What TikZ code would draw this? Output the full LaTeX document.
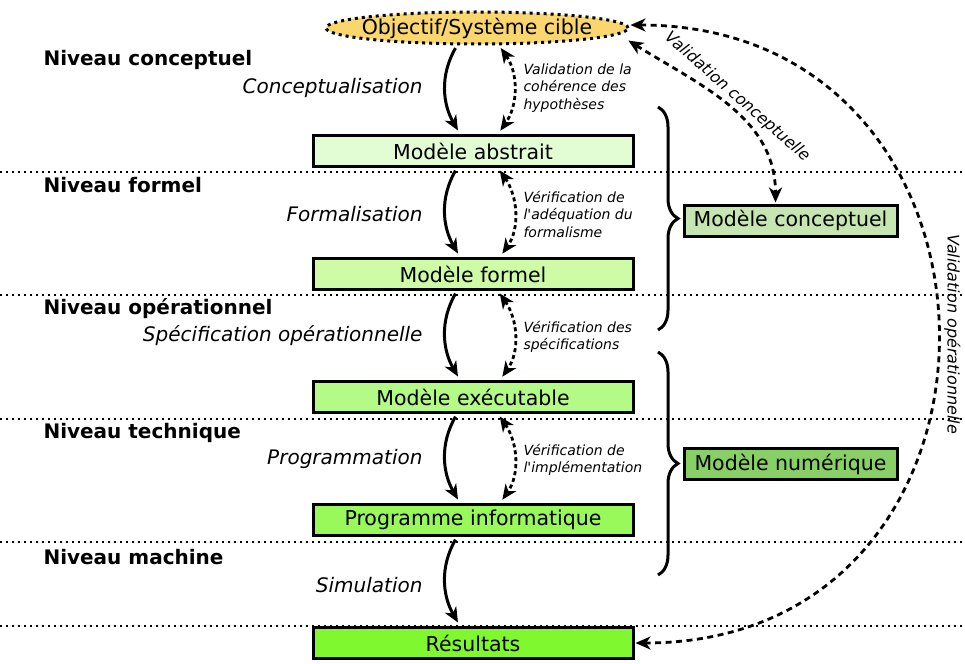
\documentclass[tikz,border=0pt]{standalone}
\usepackage{fontspec}
\setmainfont{DejaVu Sans}
\usetikzlibrary{positioning}
\usetikzlibrary{calc}
\usetikzlibrary{shapes.geometric}
\usetikzlibrary{arrows.meta}
\usetikzlibrary{decorations.pathreplacing}
\definecolor{mgoal}{RGB}{250,214,110}
\definecolor{mabstr}{RGB}{226,252,211}
\definecolor{mformel}{RGB}{205,251,166}
\definecolor{mexec}{RGB}{180,250,135}
\definecolor{mprog}{RGB}{153,249,90}
\definecolor{mres}{RGB}{128,248,48}
\definecolor{mconc}{RGB}{197,230,176}
\definecolor{mnum}{RGB}{136,208,102}

\begin{document}
\begin{tikzpicture}[x=1pt, y=1pt,
    font=\fontsize{20.5}{24}\selectfont,
    model/.style={draw, line width=3pt, minimum width=320pt, minimum height=31pt, inner sep=0pt},
    side/.style={draw, line width=3pt, minimum width=213pt, minimum height=31pt, inner sep=0pt},
    goalstyle/.style={ellipse, draw, fill=mgoal, line width=3pt, dash pattern=on 3pt off 4pt, minimum width=302pt, minimum height=32pt, inner xsep=-10pt, inner ysep=0pt},
    tier/.style={anchor=west, font=\fontsize{20}{24}\selectfont\bfseries},
    process/.style={anchor=east, font=\fontsize{20}{24}\selectfont\itshape},
    check/.style={anchor=west, align=left, font=\fontsize{14}{17.5}\selectfont\itshape},
    vlabel/.style={font=\fontsize{16}{19}\selectfont\itshape},
    divider/.style={line width=1.5pt, dash pattern=on 1.5pt off 4.5pt},
    arrow/.style={-{Stealth[length=15pt,width=13pt,inset=4.5pt]}, line width=3pt, shorten <=3pt, shorten >=4pt},
    twoway/.style={{Stealth[length=15pt,width=13pt,inset=4.5pt]}-{Stealth[length=15pt,width=13pt,inset=4.5pt]}, line width=2.8pt, dash pattern=on 4pt off 3pt, shorten <=3pt, shorten >=4pt},
    valid/.style={{Stealth[length=15pt,width=13pt,inset=4.5pt]}-{Stealth[length=15pt,width=13pt,inset=4.5pt]}, line width=2.8pt, dash pattern=on 6pt off 4.5pt, shorten <=1pt, shorten >=1pt},
    curly/.style={decorate, decoration={brace, amplitude=20pt}, line width=3pt},
]
\useasboundingbox (0,0) rectangle (965,-663);

% separators between the levels
\draw[divider] (0,-172) -- (965,-172);
\draw[divider] (0,-295) -- (965,-295);
\draw[divider] (0,-419) -- (965,-419);
\draw[divider] (0,-542) -- (965,-542);
\draw[divider] (0,-626) -- (965,-626);

\node[goalstyle] (goal) at (477,-28) {Objectif/Système cible};
\node[model, fill=mabstr] (abstrait) at (473,-151) {Modèle abstrait};
\node[model, fill=mformel, below=89pt of abstrait] (formel) {Modèle formel};
\node[model, fill=mexec, below=89pt of formel] (exec) {Modèle exécutable};
\node[model, fill=mprog, below=89pt of exec] (prog) {Programme informatique};
\node[model, fill=mres, below=89pt of prog] (res) {Résultats};

\node[tier] (lvconc) at (40,-60) {Niveau conceptuel};
\node[tier] (lvform) at (40,-185) {Niveau formel};
\node[tier] (lvop) at (40,-309) {Niveau opérationnel};
\node[tier] (lvtech) at (40,-433) {Niveau technique};
\node[tier] (lvmach) at (40,-557) {Niveau machine};

\node[process] (pconc) at (426,-88) {Conceptualisation};
\node[process] (pform) at (426,-214) {Formalisation};
\node[process] (pop) at (426,-336) {Spécification opérationnelle};
\node[process] (pprog) at (426,-459) {Programmation};
\node[process] (psim) at (426,-585) {Simulation};

\node[check] (cconc) at (520,-88) {Validation de la\\cohérence des\\hypothèses};
\node[check] (cform) at (520,-214) {Vérification de\\l\textquotesingle adéquation du\\formalisme};
\node[check] (cop) at (520,-337) {Vérification des\\spécifications};
\node[check] (cprog) at (520,-460) {Vérification de\\l\textquotesingle implémentation};

\draw[arrow] ([xshift=-20pt]goal.south) to[out=-120,in=120] ([xshift=-13pt]abstrait.north);
\draw[arrow] ([xshift=-16pt]abstrait.south) to[out=-120,in=120] ([xshift=-13pt]formel.north);
\draw[arrow] ([xshift=-16pt]formel.south) to[out=-120,in=120] ([xshift=-13pt]exec.north);
\draw[arrow] ([xshift=-16pt]exec.south) to[out=-120,in=120] ([xshift=-13pt]prog.north);
\draw[arrow] ([xshift=-16pt]prog.south) to[out=-120,in=120] ([xshift=-13pt]res.north);

\draw[twoway] ([xshift=22pt]goal.south) to[out=-55,in=55] ([xshift=25pt]abstrait.north);
\draw[twoway] ([xshift=25pt]abstrait.south) to[out=-55,in=55] ([xshift=27pt]formel.north);
\draw[twoway] ([xshift=25pt]formel.south) to[out=-55,in=55] ([xshift=27pt]exec.north);
\draw[twoway] ([xshift=25pt]exec.south) to[out=-55,in=55] ([xshift=27pt]prog.north);

% the two groups on the right
\coordinate (b1top) at (658,-107);
\coordinate (b1bot) at (658,-330);
\coordinate (b2top) at (658,-352);
\coordinate (b2bot) at (658,-575);
\draw[curly] (b1top) -- (b1bot);
\draw[curly] (b2top) -- (b2bot);
\node[side, fill=mconc] (concept) at (790.5,-220.5) {Modèle conceptuel};
\node[side, fill=mnum] (numeric) at (790.5,-464) {Modèle numérique};

\draw[valid] ($(goal.east)+(-2,-12)$) to[out=-32,in=90] node[midway, sloped, above, vlabel] {Validation conceptuelle} ([xshift=-15pt]concept.north);
\draw[valid] ([yshift=3pt]goal.east) to[out=0,in=0,looseness=1.68] node[pos=0.5, anchor=south, rotate=-90, inner ysep=6pt, vlabel] {Validation opérationnelle} (res.east);
\end{tikzpicture}
\end{document}
